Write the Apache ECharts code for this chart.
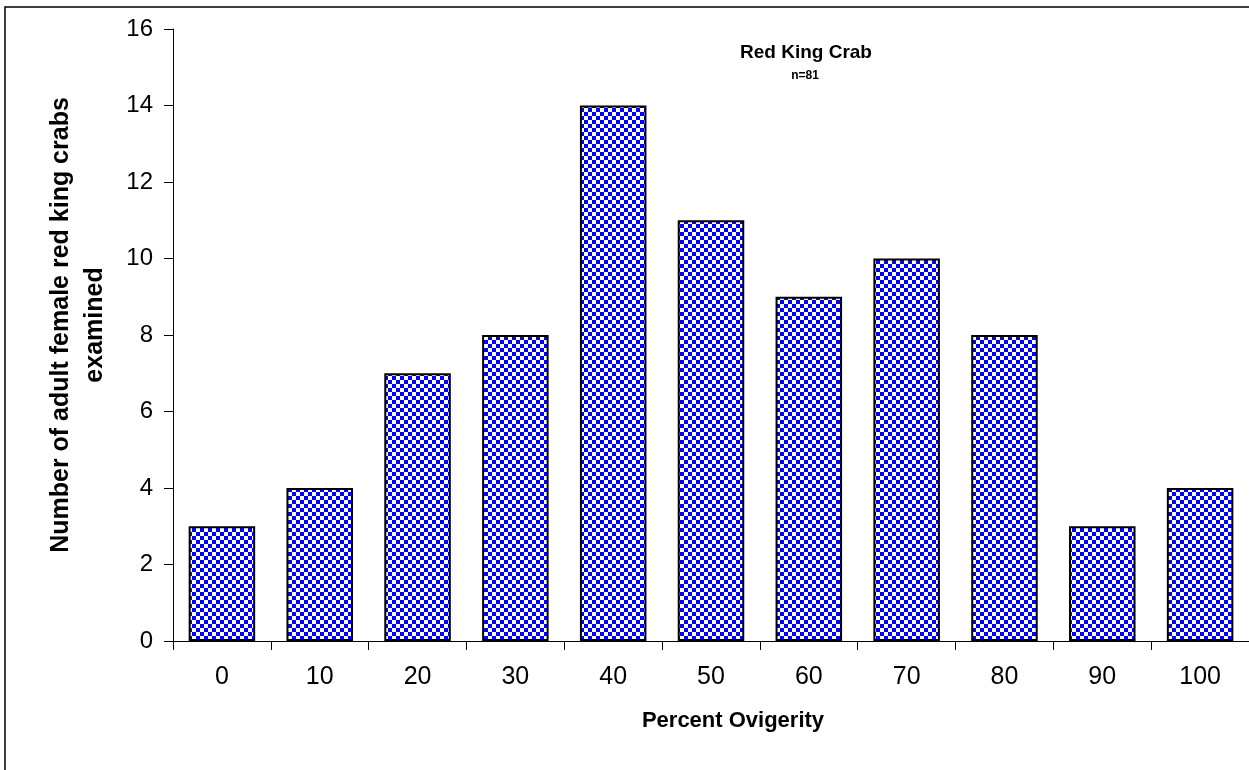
<!DOCTYPE html>
<html>
<head>
<meta charset="utf-8">
<script src="https://cdn.jsdelivr.net/npm/echarts@6/dist/echarts.min.js"></script>
<style>html,body{margin:0;padding:0;background:#fff;}#c{width:1249px;height:770px;}</style>
</head>
<body>
<div id="c"></div>
<script>
const categories = ['0','10','20','30','40','50','60','70','80','90','100'];
const counts = [3,4,7,8,14,11,9,10,8,3,4];
const yTicks = {min:0, max:16, interval:2};
const xTitle = 'Percent Ovigerity';
const yTitleLines = ['Number of adult female red king crabs', 'examined'];

const pc = document.createElement('canvas');
const cell = 4;
pc.width = cell*2; pc.height = cell*2;
const ctx = pc.getContext('2d');
ctx.fillStyle = '#ffffff'; ctx.fillRect(0,0,cell*2,cell*2);
ctx.fillStyle = '#0000ff';
ctx.fillRect(0,0,cell,cell); ctx.fillRect(cell,cell,cell,cell);

const FF = 'Liberation Sans, Arial, sans-serif';
const chart = echarts.init(document.getElementById('c'));
chart.setOption({
  animation:false,
  backgroundColor:'#fff',
  graphic:[
    {type:'rect', shape:{x:5,y:7,width:1300,height:800}, style:{fill:'none',stroke:'#000',lineWidth:1.5}, silent:true},
    {type:'text', x:733, y:721, style:{text:xTitle, font:'bold 22px ' + FF, fill:'#000', textAlign:'center', textVerticalAlign:'middle'}},
    {type:'text', x:61, y:325, rotation:Math.PI/2, style:{text:yTitleLines[0], font:'bold 25px ' + FF, fill:'#000', textAlign:'center', textVerticalAlign:'middle'}},
    {type:'text', x:95, y:325, rotation:Math.PI/2, style:{text:yTitleLines[1], font:'bold 25px ' + FF, fill:'#000', textAlign:'center', textVerticalAlign:'middle'}}
  ],
  title:[
    {text:'Red King Crab', left:801, top:38, textAlign:'center', textStyle:{fontFamily:FF, fontWeight:'bold', fontSize:19, color:'#000'}},
    {text:'n=81', left:800, top:65, textAlign:'center', textStyle:{fontFamily:FF, fontWeight:'bold', fontSize:12, color:'#000'}}
  ],
  grid:{left:173, top:29, width:1081, height:612},
  xAxis:{
    type:'category', data:categories, boundaryGap:true,
    axisLine:{lineStyle:{color:'#000',width:1}},
    axisTick:{show:true, inside:false, length:9, alignWithLabel:false, lineStyle:{color:'#000'}},
    axisLabel:{fontFamily:FF, fontSize:25, color:'#000', margin:24}
  },
  yAxis:{
    type:'value', min:yTicks.min, max:yTicks.max, interval:yTicks.interval,
    axisLine:{show:true, lineStyle:{color:'#000',width:1}},
    axisTick:{show:true, inside:false, length:9, lineStyle:{color:'#000'}},
    splitLine:{show:false},
    axisLabel:{fontFamily:FF, fontSize:24, color:'#000', margin:20}
  },
  series:[{
    type:'bar', data:counts, barCategoryGap:'32%',
    itemStyle:{color:{image:pc, repeat:'repeat'}, borderColor:'#000', borderWidth:2}
  }]
});
</script>
</body>
</html>
